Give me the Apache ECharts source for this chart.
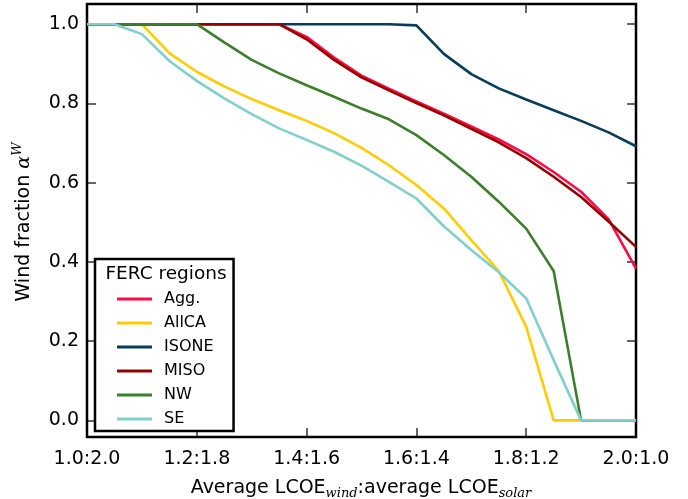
<!DOCTYPE html>
<html>
<head>
<meta charset="utf-8">
<script src="https://cdn.jsdelivr.net/npm/echarts@6/dist/echarts.min.js"></script>
<style>html,body{margin:0;padding:0;background:#fff;}#c{width:688px;height:499px;}</style>
</head>
<body>
<div id="c"></div>
<script>
// x positions: average LCOE of wind (solar = 3 - wind)
const windCost = [1.0,1.05,1.10,1.15,1.20,1.25,1.30,1.35,1.40,1.45,1.50,1.55,1.60,1.65,1.70,1.75,1.80,1.85,1.90,1.95,2.0];
const xTickValues = [1.0,1.2,1.4,1.6,1.8,2.0];
const xTickLabels = ['1.0:2.0','1.2:1.8','1.4:1.6','1.6:1.4','1.8:1.2','2.0:1.0'];
const yTickValues = [0.0,0.2,0.4,0.6,0.8,1.0];
const yTickLabels = ['0.0','0.2','0.4','0.6','0.8','1.0'];
const regionNames = ['Agg.','AllCA','ISONE','MISO','NW','SE'];
const agg   = [1,1,1,1,1,1,1,1,0.968,0.916,0.870,0.837,0.805,0.774,0.742,0.709,0.672,0.627,0.577,0.508,0.383];
const allCA = [1,1,1,0.927,0.880,0.843,0.811,0.783,0.756,0.725,0.688,0.644,0.594,0.535,0.455,0.377,0.236,0,0,0,0];
const isone = [1,1,1,1,1,1,1,1,1,1,1,1,0.997,0.925,0.874,0.838,0.810,0.783,0.756,0.727,0.692];
const miso  = [1,1,1,1,1,1,1,1,0.962,0.910,0.866,0.833,0.801,0.770,0.736,0.702,0.662,0.615,0.564,0.502,0.438];
const nw    = [1,1,1,1,1,0.954,0.910,0.876,0.846,0.817,0.787,0.760,0.720,0.670,0.615,0.552,0.484,0.377,0,0,0];
const se    = [1,1,0.975,0.907,0.857,0.813,0.773,0.737,0.708,0.678,0.643,0.602,0.560,0.490,0.430,0.374,0.308,0.152,0,0,0];
const seriesValues = [agg, allCA, isone, miso, nw, se];
const colors = ['#FF0A45','#FFCC00','#073C5B','#990000','#3B7F2B','#80D0CB'];

const FONT = 'DejaVu Sans';
const chart = echarts.init(document.getElementById('c'), null, {renderer:'canvas'});
const tickStyle = {show:true, inside:true, length:9, lineStyle:{color:'#333', width:1.5}};
const xLabelMap = {}; xTickValues.forEach((v,i)=>{xLabelMap[v.toFixed(1)] = xTickLabels[i];});
const yLabelMap = {}; yTickValues.forEach((v,i)=>{yLabelMap[v.toFixed(1)] = yTickLabels[i];});
const noLine = {show:false, onZero:false};

const option = {
  animation:false,
  backgroundColor:'#fff',
  color: colors,
  grid:{left:87, right:52, top:4, bottom:62, show:true, borderColor:'#000', borderWidth:2.5, backgroundColor:'transparent', z:3},
  xAxis:[{
    type:'value', min:1, max:2, interval:0.2, position:'bottom',
    axisLine:noLine, splitLine:{show:false},
    axisTick:Object.assign({customValues:xTickValues}, tickStyle),
    axisLabel:{customValues:xTickValues, margin:13, fontFamily:FONT, fontSize:19, color:'#000',
      formatter:v=>xLabelMap[Number(v).toFixed(1)] || ''}
  },{
    type:'value', min:1, max:2, interval:0.2, position:'top',
    axisLine:noLine, splitLine:{show:false},
    axisTick:Object.assign({customValues:xTickValues}, tickStyle),
    axisLabel:{show:false}
  }],
  yAxis:[{
    type:'value', min:-0.042, max:1.051, position:'left',
    axisLine:noLine, splitLine:{show:false},
    axisTick:Object.assign({customValues:yTickValues}, tickStyle),
    axisLabel:{customValues:yTickValues, margin:8, fontFamily:FONT, fontSize:19, color:'#000',
      formatter:v=>yLabelMap[Number(v).toFixed(1)] || ''}
  },{
    type:'value', min:-0.042, max:1.051, position:'right',
    axisLine:noLine, splitLine:{show:false},
    axisTick:Object.assign({customValues:yTickValues}, tickStyle),
    axisLabel:{show:false}
  }],
  legend:{
    orient:'vertical', left:95, top:259,
    data: regionNames,
    icon:'rect',
    padding:[28,20,0,22],
    itemWidth:35, itemHeight:3, itemGap:0,
    borderColor:'#000', borderWidth:2.5, backgroundColor:'#fff',
    textStyle:{fontFamily:FONT, fontSize:16, color:'#000', lineHeight:24, padding:[0,0,0,7]}
  },
  series: regionNames.map((name,i)=>({
    name:name, type:'line', symbol:'none',
    lineStyle:{width:2.6, color:colors[i]},
    itemStyle:{color:colors[i]},
    data: windCost.map((x,j)=>[x, seriesValues[i][j]])
  })),
  graphic:[
    {type:'text', z:100, x:166, y:274, silent:true,
     style:{text:'FERC regions', font:'18.5px "DejaVu Sans"', fill:'#000', align:'center', verticalAlign:'middle'}},
    {type:'text', z:100, x:24, y:222, rotation:Math.PI/2, silent:true,
     style:{text:'{a|Wind fraction }{b|α}{c|W}', align:'center', verticalAlign:'middle',
       rich:{
         a:{fontFamily:FONT, fontSize:19, color:'#000', lineHeight:26},
         b:{fontFamily:'DejaVu Serif', fontStyle:'italic', fontSize:19, color:'#000', lineHeight:26},
         c:{fontFamily:'DejaVu Serif', fontStyle:'italic', fontSize:13, color:'#000', verticalAlign:'top', lineHeight:13}
       }}},
    {type:'text', z:100, x:361, y:488, silent:true,
     style:{text:'{a|Average LCOE}{s|wind}{a|:average LCOE}{s|solar}', align:'center', verticalAlign:'middle',
       rich:{
         a:{fontFamily:FONT, fontSize:19, color:'#000', lineHeight:24},
         s:{fontFamily:'DejaVu Serif', fontStyle:'italic', fontSize:13, color:'#000', verticalAlign:'bottom', lineHeight:13}
       }}}
  ]
};
chart.setOption(option);
</script>
</body>
</html>
